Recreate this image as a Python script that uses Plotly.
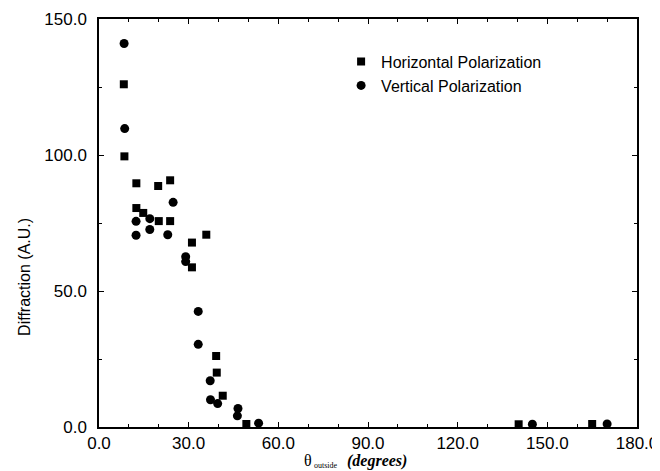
import plotly.graph_objects as go

# Horizontal polarization (squares)
h_angle = [8.3, 8.5, 12.5, 19.8, 23.8, 12.5, 14.8, 20.0, 23.8, 35.9, 31.1, 31.1, 39.2, 39.4, 41.4, 49.3, 140.4, 165.0]
h_diff = [126.0, 99.5, 89.6, 88.6, 90.7, 80.5, 78.7, 75.7, 75.7, 70.7, 67.8, 58.7, 26.1, 20.0, 11.5, 1.1, 1.0, 1.1]

# Vertical polarization (circles)
v_angle = [8.4, 8.6, 24.8, 12.4, 17.0, 12.4, 17.0, 23.0, 29.0, 29.0, 33.2, 33.2, 37.2, 37.3, 39.7, 46.5, 46.3, 53.4, 145.0, 170.0]
v_diff = [141.0, 109.7, 82.6, 75.6, 76.6, 70.5, 72.6, 70.7, 62.6, 60.8, 42.5, 30.4, 17.0, 10.0, 8.6, 6.8, 4.1, 1.4, 1.0, 1.1]

x_ticks = [0, 30, 60, 90, 120, 150, 180]
x_tick_labels = ["0.0", "30.0", "60.0", "90.0", "120.0", "150.0", "180.0"]
y_ticks = [0, 50, 100, 150]
y_tick_labels = ["0.0", "50.0", "100.0", "150.0"]

FONT = "Liberation Sans, Arial, Helvetica, sans-serif"
SERIF = "Liberation Serif, Times New Roman, serif"

fig = go.Figure()
fig.add_trace(go.Scatter(x=h_angle, y=h_diff, mode="markers", name="Horizontal Polarization",
                         marker=dict(symbol="square", size=8, color="black")))
fig.add_trace(go.Scatter(x=v_angle, y=v_diff, mode="markers", name="Vertical Polarization",
                         marker=dict(symbol="circle", size=9, color="black")))

axis_common = dict(showgrid=False, zeroline=False, showline=True, linecolor="black", linewidth=1.5,
                   mirror="ticks", ticks="inside", ticklen=5, tickwidth=1, tickcolor="black",
                   automargin=False,
                   tickfont=dict(family=FONT, size=17, color="black"))

fig.update_xaxes(range=[0, 180], tickvals=x_ticks, ticktext=x_tick_labels,
                 minor=dict(dtick=10, ticks="inside", ticklen=3, tickcolor="black"), **axis_common)
fig.update_yaxes(range=[0, 150], tickvals=y_ticks, ticktext=y_tick_labels, ticklabelstandoff=7,
                 minor=dict(dtick=25, ticks="inside", ticklen=3, tickcolor="black"), **axis_common)

fig.add_annotation(xref="paper", yref="paper", x=-0.1375, y=0.368, text="Diffraction (A.U.)",
                   textangle=-90, showarrow=False, font=dict(family=FONT, size=16, color="black"),
                   xanchor="center", yanchor="middle")
# x-axis title: theta with small subscript, then bold italic "(degrees)"
fig.add_annotation(xref="paper", yref="paper", x=(302 - 99) / 538, y=(427 - 461) / 408, text="θ",
                   showarrow=False, font=dict(family=SERIF, size=16, color="black"),
                   xanchor="left", yanchor="middle")
fig.add_annotation(xref="paper", yref="paper", x=(312 - 99) / 538, y=(427 - 465) / 408, text="outside",
                   showarrow=False, font=dict(family=SERIF, size=8, color="black"),
                   xanchor="left", yanchor="middle")
fig.add_annotation(xref="paper", yref="paper", x=(345 - 99) / 538, y=(427 - 461) / 408,
                   text="<b><i>(degrees)</i></b>",
                   showarrow=False, font=dict(family=SERIF, size=16, color="black"),
                   xanchor="left", yanchor="middle")

fig.update_layout(
    width=660, height=471,
    margin=dict(l=91, r=31, t=11, b=52),
    paper_bgcolor="white", plot_bgcolor="white",
    font=dict(family=FONT, size=16, color="black"),
    showlegend=True,
    legend=dict(x=0.45, y=0.937, xanchor="left", yanchor="top", bgcolor="rgba(0,0,0,0)",
                font=dict(family=FONT, size=16, color="black"), itemwidth=30, tracegroupgap=0),
)

fig.write_html("out.html")
